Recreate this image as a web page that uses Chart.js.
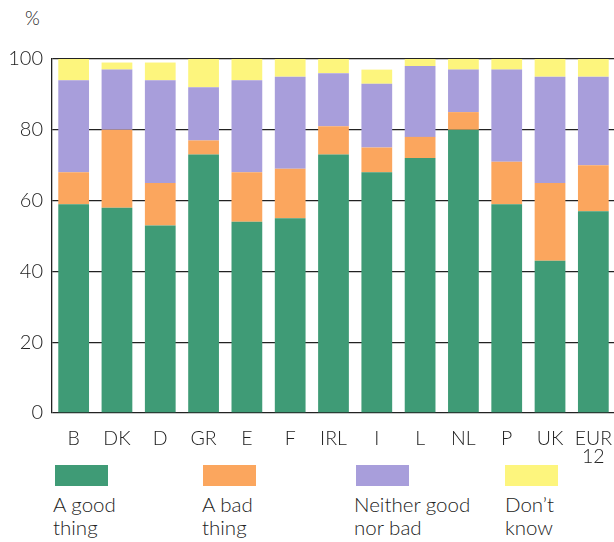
<!DOCTYPE html>
<html>
<head>
<meta charset="utf-8">
<script src="https://cdn.jsdelivr.net/npm/chart.js@4"></script>
<style>
  html, body { margin: 0; padding: 0; width: 614px; height: 542px; overflow: hidden; background: #fff; }
  body { position: relative; font-family: "Lato", "DejaVu Sans", sans-serif; font-weight: 300; color: #222; }
  #wrap { position: absolute; left: 0; top: 0; width: 620px; height: 470px; }
  .pct { position: absolute; left: 25px; top: 6px; font-size: 19px; }
  .key { position: absolute; top: 465px; width: 53px; height: 21px; }
  .txt { position: absolute; top: 493px; font-size: 20.5px; line-height: 23px; }
</style>
</head>
<body>
<div class="pct">%</div>
<div id="wrap"><canvas id="chart" width="620" height="470"></canvas></div>

<div class="key" style="left:55px;background:#3f9b76"></div>
<div class="key" style="left:203px;background:#fba65e"></div>
<div class="key" style="left:356px;background:#a89edb"></div>
<div class="key" style="left:505px;background:#fdf57d"></div>
<div class="txt" style="left:53px">A good<br>thing</div>
<div class="txt" style="left:202px">A bad<br>thing</div>
<div class="txt" style="left:354px">Neither good<br>nor bad</div>
<div class="txt" style="left:505px">Don’t<br>know</div>

<script>
// dados do gráfico
const categories = ["B", "DK", "D", "GR", "E", "F", "IRL", "I", "L", "NL", "P", "UK", ["EUR", "12"]]
const goodThing = [59, 58, 53, 73, 54, 55, 73, 68, 72, 80, 59, 43, 57]
const badThing = [9, 22, 12, 4, 14, 14, 8, 7, 6, 5, 12, 22, 13]
const neither = [26, 17, 29, 15, 26, 26, 15, 18, 20, 12, 26, 30, 25]
const dontKnow = [6, 2, 5, 8, 6, 5, 4, 4, 2, 3, 3, 5, 5]
const yTicks = [0, 20, 40, 60, 80, 100]

const seriesNames = ["A good thing", "A bad thing", "Neither good nor bad", "Don't know"]
const seriesColors = ["#3f9b76", "#fba65e", "#a89edb", "#fdf57d"]
const seriesData = [goodThing, badThing, neither, dontKnow]

;(() => {
  const ctx = document.getElementById("chart")

  new Chart(ctx, {
    type: "bar",
    data: {
      labels: categories,
      datasets: seriesData.map((d, i) => ({
        label: seriesNames[i],
        data: d,
        backgroundColor: seriesColors[i],
        borderWidth: 0,
        barPercentage: 0.71,
        categoryPercentage: 1,
      })),
    },
    options: {
      responsive: false,
      animation: false,
      layout: { padding: { top: 59, left: 0, right: 0, bottom: 0 } },
      plugins: {
        legend: { display: false },
        tooltip: { enabled: false },
      },
      scales: {
        x: {
          stacked: true,
          grid: { display: false },
          border: { display: false },
          ticks: {
            color: "#222",
            font: { family: "Lato", size: 19.5, weight: 300, lineHeight: 0.95 },
            padding: 8,
            maxRotation: 0,
            autoSkip: false,
          },
          afterFit: (scale) => { scale.height = 57 },
        },
        y: {
          stacked: true,
          min: 0,
          max: 100,
          afterBuildTicks: (scale) => { scale.ticks = yTicks.map((v) => ({ value: v })) },
          grid: { color: "#222", lineWidth: 1.3, drawTicks: false },
          border: { display: true, color: "#222", width: 1.3 },
          ticks: {
            color: "#222",
            font: { family: "Lato", size: 20, weight: 300 },
            padding: 9,
          },
          afterFit: (scale) => { scale.width = 52 },
        },
      },
    },
  })
})()
</script>
</body>
</html>
